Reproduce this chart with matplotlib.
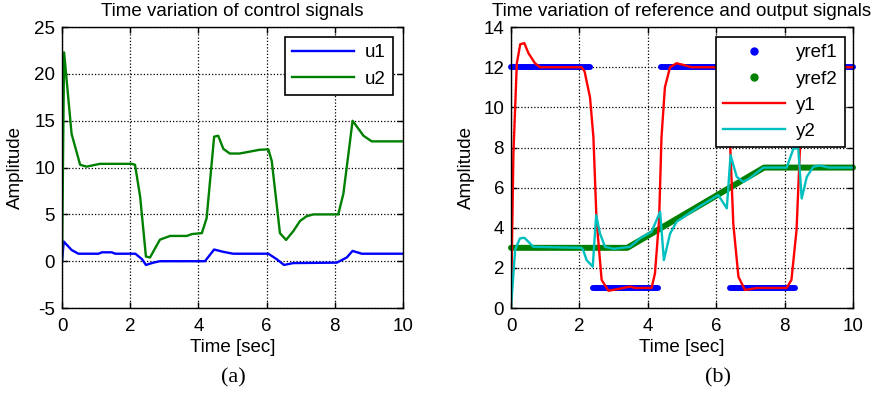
"""
Two MATLAB-style panels: control signals (a) and reference/output signals (b).
"""
import numpy as np
import matplotlib
matplotlib.use("Agg")
import matplotlib.pyplot as plt
from matplotlib.lines import Line2D

# ---- panel (a): control signals ----
u1_t = [0, 0.05, 0.28, 0.48, 1.07, 1.17, 1.46, 1.56, 2.15, 2.35, 2.46, 2.68,
        2.87, 4.19, 4.32, 4.46, 4.73, 5.02, 6.05, 6.3, 6.51, 6.78, 8.06, 8.35,
        8.52, 8.79, 10]
u1_v = [0, 2.1, 1.2, 0.8, 0.8, 0.95, 0.95, 0.8, 0.8, 0.2, -0.4, -0.15,
        0, 0, 0.6, 1.25, 1.0, 0.8, 0.8, 0.2, -0.4, -0.2, -0.15, 0.4,
        1.1, 0.8, 0.8]

u2_t = [0, 0.06, 0.28, 0.53, 0.72, 1.11, 2.04, 2.14, 2.29, 2.46, 2.58, 2.87,
        3.17, 3.66, 3.81, 4.1, 4.24, 4.46, 4.58, 4.73, 4.92, 5.2, 5.5, 5.79,
        6.05, 6.15, 6.39, 6.57, 6.78, 6.98, 7.17, 7.37, 8.1, 8.25, 8.4, 8.52,
        8.64, 8.84, 9.08, 10]
u2_v = [0, 22.3, 13.6, 10.3, 10.1, 10.4, 10.4, 10.3, 6.9, 0.5, 0.4, 2.3,
        2.7, 2.7, 2.9, 3.0, 4.6, 13.3, 13.4, 12.0, 11.5, 11.5, 11.7, 11.9,
        11.95, 10.7, 3.0, 2.27, 3.2, 4.3, 4.8, 5.0, 5.0, 7.2, 11.5, 15.0,
        14.4, 13.4, 12.8, 12.8]

# ---- panel (b): references and outputs ----
yref1_start = [0, 2.4, 4.4, 6.4, 8.4]
yref1_end = [2.3, 4.3, 6.3, 8.3, 10]
yref1_level = [12, 1, 12, 1, 12]

yref2_t = [0, 3.4, 7.4, 10]
yref2_v = [3, 3, 7, 7]

y1_t = [0, 0.07, 0.17, 0.27, 0.39, 0.51, 0.7, 0.85, 2.06, 2.15, 2.31, 2.41,
        2.5, 2.65, 2.85, 3.14, 3.48, 3.62, 4.11, 4.21, 4.33, 4.4, 4.5, 4.65,
        4.84, 5.08, 5.27, 6.06, 6.15, 6.31, 6.4, 6.5, 6.65, 6.84, 7.2, 8.06,
        8.2, 8.35, 8.45, 8.52, 8.65, 8.84, 9.1, 9.3, 10]
y1_v = [0, 7.7, 12.2, 13.15, 13.2, 12.7, 12.2, 12.0, 12.0, 11.8, 10.5, 8.5,
        4.4, 1.4, 0.86, 0.95, 1.07, 1.0, 1.0, 1.73, 4.4, 8.5, 11.0, 12.0,
        12.2, 12.1, 12.0, 12.0, 11.8, 10.5, 8.5, 4.2, 1.56, 0.9, 1.0, 1.0,
        1.4, 3.9, 8.0, 11.0, 12.0, 12.2, 12.1, 12.0, 12.0]

y2_t = [0, 0.12, 0.26, 0.39, 0.51, 0.65, 2.06, 2.11, 2.21, 2.39, 2.49, 2.6,
        2.75, 3.0, 3.48, 3.77, 4.11, 4.36, 4.47, 4.65, 4.84, 5.5, 6.06, 6.31,
        6.42, 6.6, 6.79, 6.96, 7.38, 8.06, 8.26, 8.4, 8.5, 8.65, 8.84, 9.03,
        9.3, 10]
y2_v = [0, 2.9, 3.47, 3.5, 3.3, 3.05, 3.0, 2.89, 2.39, 2.06, 4.63, 3.72,
        3.05, 2.95, 3.05, 3.47, 3.8, 4.8, 2.39, 3.7, 4.3, 5.05, 5.63, 4.97,
        7.62, 6.54, 6.29, 6.45, 7.0, 7.0, 7.95, 7.95, 5.46, 6.54, 7.04, 7.1,
        7.0, 7.0]

BLUE = (0, 0, 1)
GREEN = (0, 0.5, 0)
RED = (1, 0, 0)
CYAN = (0, 0.75, 0.75)

FS = 13.5
plt.rcParams['font.family'] = ['Liberation Sans', 'DejaVu Sans']
plt.rcParams['font.size'] = FS
plt.rcParams['axes.unicode_minus'] = False

# the dense reference dots merge into a thick band with round ends
BAND_STYLE = dict(lw=4.3, solid_capstyle='round', clip_on=False)


def style_axes(ax, yticks):
    """MATLAB-ish box, inward ticks and dotted black grid."""
    ax.set_xlim(0, 10)
    ax.set_xticks(range(0, 11, 2))
    ax.set_ylim(yticks[0], yticks[-1])
    ax.set_yticks(yticks)
    ax.tick_params(direction='in', top=True, right=True, length=4,
                   width=1, labelsize=FS)
    ax.tick_params(axis='x', pad=7)
    ax.tick_params(axis='y', pad=5)
    for s in ax.spines.values():
        s.set_linewidth(1.0)
    ax.grid(True, color='k', linestyle=(0, (1, 1.6)), linewidth=0.9)
    ax.set_axisbelow(True)
    ax.set_xlabel('Time [sec]', fontsize=FS)
    ax.set_ylabel('Amplitude', fontsize=FS)
    ax.xaxis.set_label_coords(0.5, -0.11)


def make_legend(ax, handles, labels, anchor):
    leg = ax.legend(handles, labels, loc='upper right', bbox_to_anchor=anchor,
                    borderaxespad=0, fancybox=False, framealpha=1,
                    edgecolor='k', fontsize=FS, handlelength=3.3,
                    handletextpad=0.6, borderpad=0.38, labelspacing=0.48)
    leg.get_frame().set_linewidth(1.2)
    return leg


fig = plt.figure(figsize=(8.8, 3.99), dpi=100)
ax_a = fig.add_axes([0.0705, 0.228, 0.3875, 0.704])
ax_b = fig.add_axes([0.5807, 0.228, 0.3886, 0.704])

# (a)
la, = ax_a.plot(u1_t, u1_v, color=BLUE, lw=1.7)
lb, = ax_a.plot(u2_t, u2_v, color=GREEN, lw=1.7)
style_axes(ax_a, list(range(-5, 26, 5)))
ax_a.set_title('Time variation of control signals', fontsize=FS, pad=8)
ax_a.yaxis.set_label_coords(-0.112, 0.5)
make_legend(ax_a, [la, lb], ['u1', 'u2'], (0.971, 0.964))

# (b)
ref1_t, ref1_v = [], []
for a, b, lev in zip(yref1_start, yref1_end, yref1_level):
    ref1_t += [a, b, np.nan]
    ref1_v += [lev, lev, np.nan]
ax_b.plot(ref1_t, ref1_v, color=BLUE, **BAND_STYLE)
ax_b.plot(yref2_t, yref2_v, color=GREEN, **BAND_STYLE)
l1, = ax_b.plot(y1_t, y1_v, color=RED, lw=1.7)
l2, = ax_b.plot(y2_t, y2_v, color=CYAN, lw=1.7)
style_axes(ax_b, list(range(0, 15, 2)))
ax_b.set_title('Time variation of reference and output signals',
               fontsize=FS, pad=8)
ax_b.yaxis.set_label_coords(-0.106, 0.5)
p1 = Line2D([], [], ls='none', marker='o', ms=5, color=BLUE)
p2 = Line2D([], [], ls='none', marker='o', ms=5, color=GREEN)
make_legend(ax_b, [p1, p2, l1, l2], ['yref1', 'yref2', 'y1', 'y2'],
            (0.977, 0.964))

fig.text(233 / 880, 1 - 378 / 399, '(a)', family='Liberation Serif',
         fontsize=16, ha='center', va='center')
fig.text(718 / 880, 1 - 378 / 399, '(b)', family='Liberation Serif',
         fontsize=16, ha='center', va='center')

fig.savefig('out.png', dpi=100)
